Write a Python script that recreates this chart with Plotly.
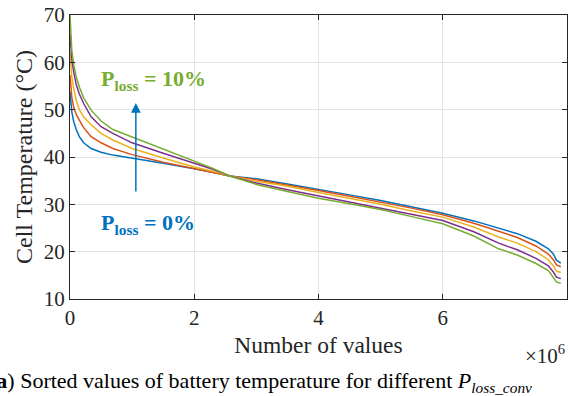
import plotly.graph_objects as go

# x positions (x 10^6 values)
x_vals = [0, 0.01, 0.03, 0.06, 0.1, 0.15, 0.22, 0.34, 0.5, 0.69, 1.0, 1.5, 2.0, 2.3, 2.57,
          3.0, 3.5, 4.0, 4.5, 5.0, 5.5, 6.0, 6.5, 6.9, 7.2, 7.5, 7.7, 7.78, 7.83, 7.9]

temp_p0 = [53.8, 51.5, 49.5, 47.5, 45.8, 44.3, 43.0, 41.8, 41.0, 40.4, 39.8, 38.7, 37.5, 36.8, 36.0,
           35.4, 34.3, 33.2, 32.0, 30.8, 29.5, 28.1, 26.5, 25.0, 23.8, 22.2, 20.6, 19.5, 18.2, 17.6]
temp_p25 = [57.3, 55.0, 52.5, 50.5, 49.0, 47.8, 46.2, 44.3, 43.0, 41.8, 40.5, 38.9, 37.5, 36.8, 36.0,
            35.2, 34.1, 32.9, 31.7, 30.5, 29.2, 27.8, 26.0, 24.3, 23.0, 21.2, 19.5, 18.3, 17.2, 16.8]
temp_p5 = [62.2, 59.5, 56.8, 54.5, 52.0, 50.0, 48.5, 46.8, 45.0, 43.6, 41.8, 39.8, 37.9, 37.0, 36.0,
           34.9, 33.8, 32.5, 31.3, 30.0, 28.6, 27.3, 25.2, 23.1, 21.8, 20.0, 18.3, 17.0, 15.9, 15.6]
temp_p75 = [66.0, 63.0, 60.5, 58.0, 55.3, 53.3, 51.3, 48.5, 46.4, 45.0, 43.0, 40.8, 38.7, 37.4, 36.0,
            34.5, 33.1, 31.8, 30.6, 29.3, 27.9, 26.6, 24.2, 21.8, 20.4, 18.6, 17.0, 15.7, 14.6, 14.3]
temp_p10 = [70.0, 66.5, 62.5, 59.5, 57.0, 54.8, 52.5, 49.9, 47.6, 45.8, 44.2, 41.7, 39.2, 37.6, 36.0,
            34.2, 32.7, 31.3, 30.1, 28.9, 27.4, 25.9, 23.3, 20.6, 19.3, 17.5, 16.0, 14.6, 13.6, 13.3]

series = [temp_p0, temp_p25, temp_p5, temp_p75, temp_p10]
colors = ["#0072BD", "#D95319", "#EDB120", "#7E2F8E", "#77AC30"]

x_ticks = [0, 2, 4, 6, 8]
y_ticks = [10, 20, 30, 40, 50, 60, 70]

FONT = "Liberation Serif, Times New Roman, Times, DejaVu Serif, serif"
AX = "#262626"

fig = go.Figure()
for ys, c in zip(series, colors):
    fig.add_trace(go.Scatter(x=x_vals, y=ys, mode="lines",
                             line=dict(color=c, width=1.5), showlegend=False))

fig.update_layout(
    width=570, height=396,
    margin=dict(l=70, r=3, t=15, b=97),
    paper_bgcolor="white", plot_bgcolor="white",
    font=dict(family=FONT, size=20, color=AX),
    showlegend=False,
)
fig.update_xaxes(range=[0, 8], tickvals=x_ticks, ticktext=[str(v) for v in x_ticks],
                 showgrid=True, gridcolor="#e3e3e3", gridwidth=1,
                 showline=True, linecolor=AX, linewidth=1, mirror="ticks",
                 ticks="inside", ticklen=5, tickcolor=AX, zeroline=False,
                 tickfont=dict(family=FONT, size=21, color=AX),
                 title=dict(text="Number of values", font=dict(family=FONT, size=23.5, color=AX), standoff=7))
fig.update_yaxes(range=[10, 70], tickvals=y_ticks, ticktext=[str(v) for v in y_ticks],
                 showgrid=True, gridcolor="#e3e3e3", gridwidth=1,
                 showline=True, linecolor=AX, linewidth=1, mirror="ticks",
                 ticks="inside", ticklen=5, tickcolor=AX, zeroline=False,
                 tickfont=dict(family=FONT, size=21, color=AX),
                 title=dict(text="Cell Temperature (°C)", font=dict(family=FONT, size=24, color=AX), standoff=4))

# arrow
fig.add_annotation(x=1.06, y=51.4, ax=1.06, ay=32.4, xref="x", yref="y", axref="x", ayref="y",
                   text="", showarrow=True, arrowhead=2, arrowsize=1.3, arrowwidth=1.5,
                   arrowcolor="#0072BD")
fig.add_annotation(x=0.47, y=59.6, xref="x", yref="y", xanchor="left", yanchor="top",
                   text="<b>P<sub>loss</sub> = 10%</b>", showarrow=False,
                   font=dict(family=FONT, size=22, color="#77AC30"))
fig.add_annotation(x=0.47, y=29.2, xref="x", yref="y", xanchor="left", yanchor="top",
                   text="<b>P<sub>loss</sub> = 0%</b>", showarrow=False,
                   font=dict(family=FONT, size=22, color="#0072BD"))
# exponent
fig.add_annotation(x=1.0, y=-0.14, xref="paper", yref="paper", xanchor="right", yanchor="top",
                   text="×10<sup>6</sup>", showarrow=False,
                   font=dict(family=FONT, size=21, color=AX))
# caption
fig.add_annotation(x=-0.166, y=-0.235, xref="paper", yref="paper", xanchor="left", yanchor="top",
                   text="(<b>a</b>) Sorted values of battery temperature for different <i>P<sub>loss_conv</sub></i>",
                   showarrow=False, font=dict(family=FONT, size=22, color="black"))

fig.write_html("out.html")
